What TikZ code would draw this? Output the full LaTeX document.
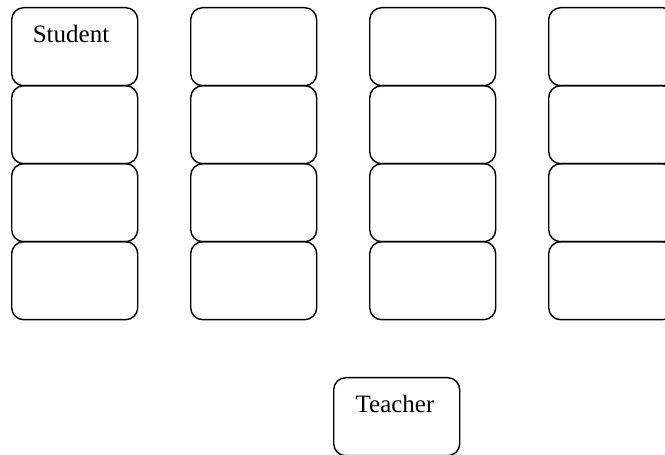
\documentclass[tikz,border=0pt]{standalone}
\usepackage{fontspec}
\setmainfont{Liberation Serif}
\begin{document}
\begin{tikzpicture}[x=1pt,y=1pt,
  seat/.style={draw=black,line width=1.4pt,rounded corners=12pt,minimum width=126pt,minimum height=78pt,inner sep=0pt,anchor=north west},
  lbl/.style={font=\fontsize{25}{25}\selectfont,anchor=base,inner sep=0pt}]
\useasboundingbox (0,0) rectangle (665,455);
\clip (0,0) rectangle (665,455);
\foreach \c/\x in {1/11,2/190,3/369,4/548}{
  \foreach \r/\y in {1/7,2/85,3/163,4/241}{
    \node[seat] (s\c\r) at (\x,455-\y) {};
  }
}
\node[lbl] (studenttext) at (71,455-43) {Student};
\node[seat] (teacher) at (333,455-377) {};
\node[lbl] (teachertext) at (395,455-413) {Teacher};
\end{tikzpicture}
\end{document}
